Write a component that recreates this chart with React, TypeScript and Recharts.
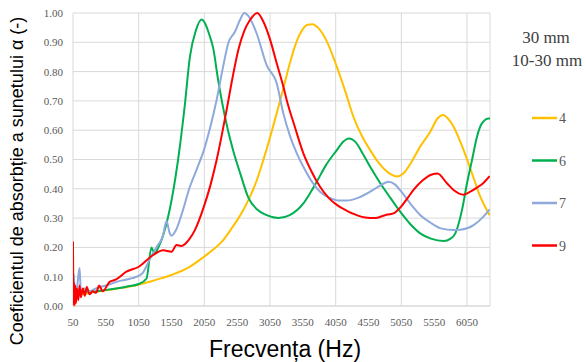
import React from 'react';
import { LineChart, Line, XAxis, YAxis, CartesianGrid } from 'recharts';

// Frecvente (Hz) si coeficienti de absorbtie
const f4 = [50, 60, 100, 200, 300, 450, 600, 800, 1000, 1220, 1400, 1550, 1800, 2043, 2200, 2338, 2450, 2551, 2650, 2745, 2850, 2948, 3050, 3152, 3250, 3354, 3450, 3550, 3620, 3700, 3780, 3900, 4067, 4200, 4320, 4450, 4575, 4700, 4800, 4900, 4982, 5080, 5200, 5337, 5490, 5600, 5684, 5760, 5846, 5998, 6126, 6252, 6394];
const a4 = [0.2, 0.03, 0.05, 0.04, 0.045, 0.05, 0.055, 0.062, 0.07, 0.083, 0.095, 0.106, 0.13, 0.168, 0.195, 0.225, 0.26, 0.293, 0.33, 0.373, 0.43, 0.498, 0.575, 0.658, 0.74, 0.83, 0.9, 0.945, 0.96, 0.962, 0.95, 0.91, 0.817, 0.73, 0.646, 0.58, 0.532, 0.49, 0.465, 0.448, 0.442, 0.452, 0.49, 0.544, 0.595, 0.64, 0.652, 0.64, 0.612, 0.532, 0.453, 0.373, 0.31];

const f6 = [50, 70, 100, 150, 200, 355, 560, 864, 1052, 1170, 1245, 1290, 1350, 1448, 1550, 1677, 1750, 1830, 1920, 2008, 2060, 2120, 2185, 2261, 2389, 2490, 2600, 2720, 2850, 3000, 3177, 3350, 3558, 3660, 3762, 3900, 4067, 4160, 4255, 4350, 4450, 4575, 4727, 4880, 5032, 5185, 5337, 5500, 5694, 5800, 5872, 5974, 6050, 6126, 6202, 6279, 6380, 6400];
const a6 = [0.08, 0.02, 0.06, 0.04, 0.05, 0.049, 0.055, 0.066, 0.075, 0.094, 0.2, 0.18, 0.2, 0.26, 0.36, 0.544, 0.68, 0.85, 0.94, 0.978, 0.965, 0.93, 0.88, 0.77, 0.62, 0.53, 0.45, 0.37, 0.33, 0.31, 0.3, 0.31, 0.35, 0.385, 0.424, 0.48, 0.532, 0.56, 0.572, 0.56, 0.525, 0.475, 0.42, 0.37, 0.322, 0.28, 0.248, 0.23, 0.222, 0.23, 0.248, 0.328, 0.419, 0.498, 0.578, 0.624, 0.64, 0.64];

const f7 = [50, 60, 80, 110, 150, 170, 220, 300, 400, 550, 750, 950, 1100, 1220, 1320, 1420, 1474, 1520, 1550, 1620, 1700, 1830, 1940, 2043, 2140, 2237, 2330, 2414, 2516, 2590, 2658, 2720, 2847, 2999, 3152, 3250, 3355, 3460, 3558, 3700, 3812, 3950, 4100, 4220, 4400, 4575, 4720, 4854, 4950, 5050, 5185, 5340, 5490, 5650, 5845, 5950, 6150, 6300, 6394];
const a7 = [0.02, 0.11, 0.04, 0.06, 0.13, 0.05, 0.06, 0.05, 0.06, 0.07, 0.085, 0.095, 0.11, 0.16, 0.2, 0.24, 0.29, 0.25, 0.24, 0.26, 0.31, 0.407, 0.47, 0.532, 0.61, 0.703, 0.81, 0.897, 0.936, 0.975, 1.0, 0.99, 0.93, 0.822, 0.76, 0.66, 0.58, 0.52, 0.475, 0.42, 0.39, 0.37, 0.36, 0.36, 0.37, 0.39, 0.41, 0.424, 0.415, 0.39, 0.35, 0.31, 0.285, 0.265, 0.259, 0.26, 0.276, 0.305, 0.33];

const f9 = [50, 55, 65, 75, 85, 95, 110, 130, 150, 170, 200, 230, 260, 300, 350, 400, 450, 500, 611, 700, 864, 1052, 1270, 1423, 1550, 1627, 1700, 1830, 1906, 2043, 2140, 2237, 2389, 2480, 2567, 2660, 2745, 2856, 2950, 3050, 3150, 3253, 3304, 3430, 3558, 3680, 3812, 3940, 4067, 4220, 4372, 4500, 4651, 4800, 4930, 5050, 5150, 5235, 5380, 5515, 5600, 5744, 5850, 5998, 6100, 6201, 6300, 6394];
const a9 = [0.22, 0.0, 0.08, 0.0, 0.07, 0.01, 0.06, 0.02, 0.07, 0.03, 0.06, 0.035, 0.065, 0.04, 0.05, 0.045, 0.07, 0.05, 0.083, 0.09, 0.117, 0.134, 0.174, 0.19, 0.185, 0.208, 0.205, 0.231, 0.259, 0.339, 0.41, 0.498, 0.669, 0.78, 0.874, 0.94, 0.976, 1.0, 0.97, 0.91, 0.83, 0.749, 0.703, 0.61, 0.521, 0.46, 0.407, 0.37, 0.345, 0.325, 0.31, 0.302, 0.3, 0.31, 0.316, 0.34, 0.37, 0.396, 0.43, 0.449, 0.452, 0.419, 0.395, 0.38, 0.39, 0.404, 0.42, 0.443];

const xTicks = [50, 550, 1050, 1550, 2050, 2550, 3050, 3550, 4050, 4550, 5050, 5550, 6050];
const yTicks = [0, 0.1, 0.2, 0.3, 0.4, 0.5, 0.6, 0.7, 0.8, 0.9, 1.0];

const toPoints = (fs: number[], as: number[]) => fs.map((f, i) => ({ f, a: as[i] }));

const series = [
  { name: '4', color: '#FFC000', data: toPoints(f4, a4) },
  { name: '6', color: '#00B050', data: toPoints(f6, a6) },
  { name: '7', color: '#8EA9DB', data: toPoints(f7, a7) },
  { name: '9', color: '#FF0000', data: toPoints(f9, a9) },
];

const tickStyle = { fontFamily: '"Liberation Serif", serif', fontSize: 11, fill: '#595959' };

export default function App() {
  return (
    <div style={{ position: 'absolute', left: 0, top: 0, width: 586, height: 362, background: '#fff' }}>
      <LineChart width={586} height={362} margin={{ top: 13, right: 96, bottom: 0, left: 0 }}>
        <CartesianGrid stroke="#d9d9d9" />
        <XAxis
          type="number"
          dataKey="f"
          domain={[50, 6400]}
          ticks={xTicks}
          allowDataOverflow
          height={56}
          tickLine={false}
          tickSize={0}
          tickMargin={12}
          stroke="#d9d9d9"
          tick={tickStyle}
        />
        <YAxis
          type="number"
          domain={[0, 1]}
          ticks={yTicks}
          width={73}
          axisLine={false}
          tickLine={false}
          tickSize={0}
          tickMargin={10}
          tickFormatter={(v: number) => v.toFixed(2)}
          tick={tickStyle}
        />
        {series.map((s) => (
          <Line
            key={s.name}
            data={s.data}
            dataKey="a"
            name={s.name}
            type="monotone"
            stroke={s.color}
            strokeWidth={2}
            dot={false}
            isAnimationActive={false}
          />
        ))}
      </LineChart>
      <svg width={586} height={362} style={{ position: 'absolute', left: 0, top: 0, pointerEvents: 'none' }}>
        <text
          x={23}
          y={181}
          transform="rotate(-90 23 181)"
          textAnchor="middle"
          fontFamily='"Liberation Sans", Arial, sans-serif'
          fontSize={18}
          fill="#000"
        >
          Coeficientul de absorbție a sunetului α (-)
        </text>
        <text x={285} y={357} textAnchor="middle" fontFamily='"Liberation Sans", Arial, sans-serif' fontSize={23} fill="#000">
          Frecvența (Hz)
        </text>
        <text x={546} y={43} textAnchor="middle" fontFamily='"Liberation Serif", serif' fontSize={17} fill="#404040">
          30 mm
        </text>
        <text x={547} y={66} textAnchor="middle" fontFamily='"Liberation Serif", serif' fontSize={17} fill="#404040">
          10-30 mm
        </text>
        {series.map((s, i) => {
          const y = 118 + i * 42.5;
          return (
            <g key={s.name}>
              <line x1={532} x2={557} y1={y} y2={y} stroke={s.color} strokeWidth={2.5} />
              <text x={559} y={y + 5} fontFamily='"Liberation Serif", serif' fontSize={14} fill="#595959">
                {s.name}
              </text>
            </g>
          );
        })}
      </svg>
    </div>
  );
}
